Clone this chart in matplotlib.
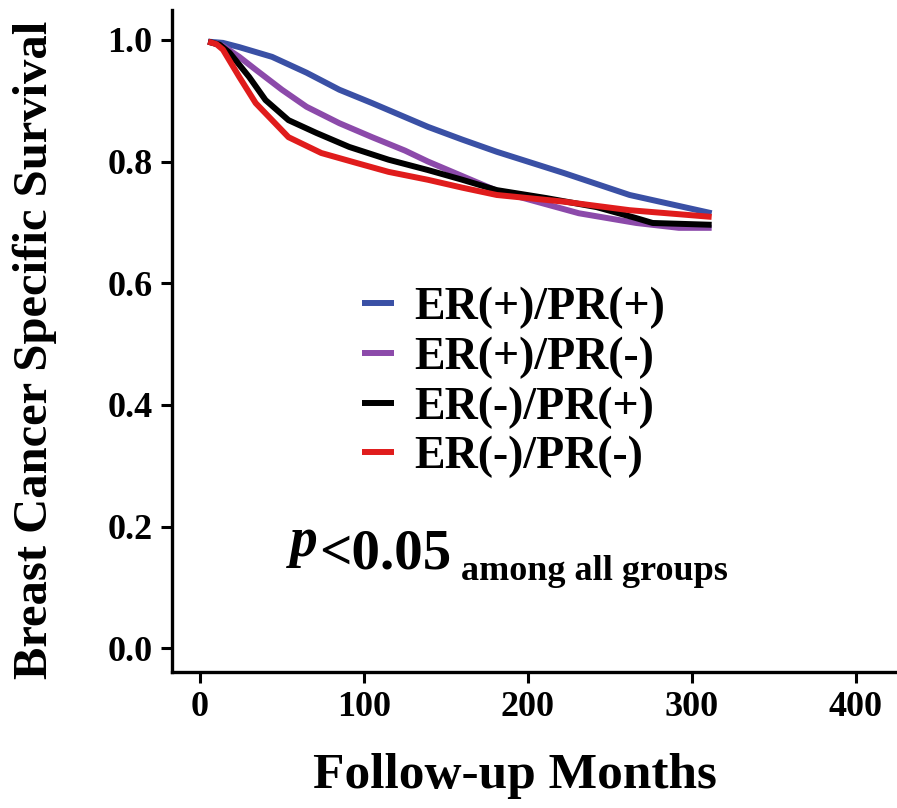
import matplotlib.pyplot as plt

plt.rcParams['font.family'] = ['Liberation Serif', 'DejaVu Serif']
plt.rcParams['font.weight'] = 'bold'

# survival curves (months, survival)
months_pp = [5, 14, 24, 44, 65, 85, 105, 139, 160, 181, 222, 262, 312]
surv_pp = [0.997, 0.995, 0.988, 0.972, 0.946, 0.918, 0.896, 0.857, 0.836, 0.816, 0.781, 0.745, 0.715]

months_pn = [5, 14, 24, 34, 50, 65, 85, 105, 125, 139, 160, 181, 231, 266, 292, 312]
surv_pn = [0.997, 0.99, 0.972, 0.951, 0.918, 0.890, 0.863, 0.840, 0.818, 0.800, 0.776, 0.752,
           0.715, 0.699, 0.691, 0.691]

months_np = [5, 12, 18, 30, 40, 54, 71, 91, 115, 139, 160, 181, 211, 242, 266, 276, 312]
surv_np = [0.997, 0.992, 0.979, 0.939, 0.901, 0.868, 0.847, 0.824, 0.803, 0.786, 0.770, 0.753,
           0.740, 0.725, 0.707, 0.699, 0.696]

months_nn = [5, 10, 14, 24, 34, 44, 54, 74, 95, 115, 139, 160, 181, 222, 262, 312]
surv_nn = [0.997, 0.993, 0.984, 0.939, 0.896, 0.868, 0.840, 0.814, 0.798, 0.783, 0.770, 0.757,
           0.745, 0.734, 0.720, 0.709]

labels = ['ER(+)/PR(+)', 'ER(+)/PR(-)', 'ER(-)/PR(+)', 'ER(-)/PR(-)']
colors = ['#3a50a5', '#8c4aaa', '#000000', '#e01c1c']

fig = plt.figure(figsize=(8.97, 8.08), dpi=100)
ax = fig.add_axes([0.1918, 0.1683, 0.8082, 0.8193])

series = [(months_pp, surv_pp), (months_pn, surv_pn), (months_np, surv_np), (months_nn, surv_nn)]
for (x, y), lab, c in zip(series, labels, colors):
    ax.plot(x, y, color=c, lw=4.3, label=lab, solid_capstyle='butt', solid_joinstyle='round')

ax.set_xlim(-17, 425)
ax.set_ylim(-0.039, 1.049)
ax.set_xticks([0, 100, 200, 300, 400])
ax.set_yticks([0.0, 0.2, 0.4, 0.6, 0.8, 1.0])
ax.set_yticklabels(['0.0', '0.2', '0.4', '0.6', '0.8', '1.0'])

ax.spines['top'].set_visible(False)
ax.spines['right'].set_visible(False)
ax.spines['left'].set_linewidth(2.4)
ax.spines['bottom'].set_linewidth(2.4)
ax.tick_params(direction='out', length=8, width=2.2, labelsize=26, pad=6)
for t in ax.get_xticklabels() + ax.get_yticklabels():
    t.set_fontweight('bold')

ax.set_xlabel('Follow-up Months', fontsize=37, fontweight='bold')
ax.set_ylabel('Breast Cancer Specific Survival', fontsize=35, fontweight='bold')
ax.xaxis.set_label_coords(0.473, -0.122)
ax.yaxis.set_label_coords(-0.159, 0.486)

leg = ax.legend(loc='center left', bbox_to_anchor=(0.262, 0.437), frameon=False,
                handlelength=0.7, handletextpad=0.45, labelspacing=0.16,
                borderpad=0, borderaxespad=0,
                prop={'family': 'Liberation Serif', 'weight': 'bold', 'size': 33})

ptxt = ax.text(0.163, 0.175, 'p', transform=ax.transAxes, fontsize=40,
               fontstyle='italic', fontweight='bold')
vtxt = ax.annotate('<0.05', xy=(1, 0), xycoords=ptxt, xytext=(1, 0),
                   textcoords='offset points', fontsize=41, fontweight='bold')
ax.annotate('among all groups', xy=(1, 0), xycoords=vtxt, xytext=(7, 0),
            textcoords='offset points', fontsize=26, fontweight='bold')

fig.savefig('out.png', dpi=100)
